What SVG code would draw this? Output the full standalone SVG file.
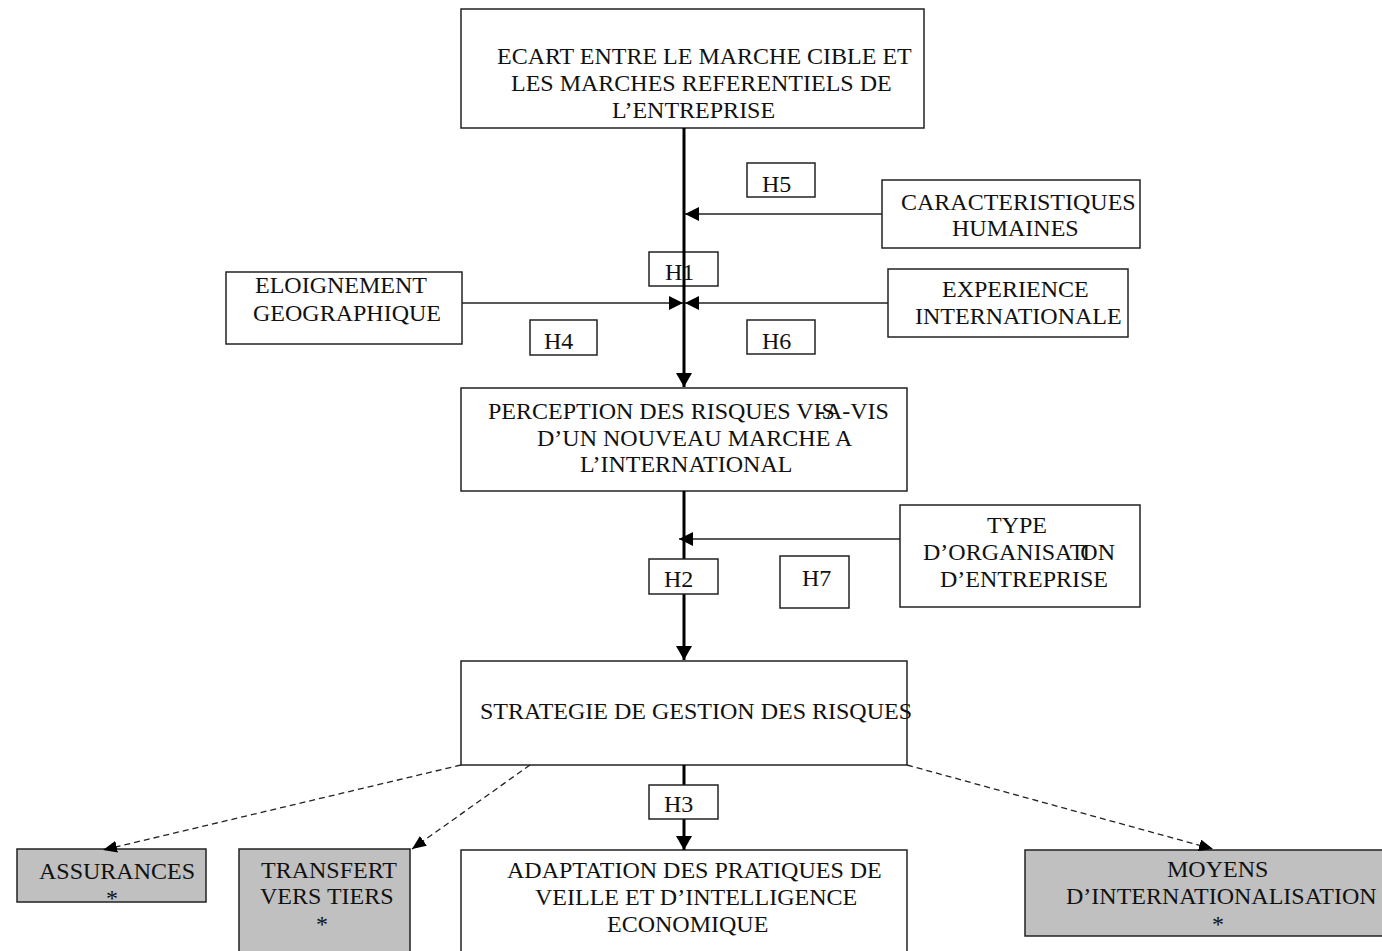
<svg xmlns="http://www.w3.org/2000/svg" width="1382" height="951" viewBox="0 0 1382 951">
<style>
.box{fill:#fff;stroke:#222;stroke-width:1.5}
.grey{fill:#c0c0c0;stroke:#222;stroke-width:1.5}
text{font-family:"Liberation Serif","Times New Roman",serif;font-size:24px;fill:#111}
.main{stroke:#000;stroke-width:3;fill:none}
.thin{stroke:#222;stroke-width:1.5;fill:none}
.dash{stroke:#222;stroke-width:1.3;fill:none;stroke-dasharray:6,4}
</style>
<defs>
<marker id="ah" viewBox="0 0 14 12" refX="14" refY="6" markerWidth="14" markerHeight="12" markerUnits="userSpaceOnUse" orient="auto">
<path d="M0,0 L14,6 L0,12 Z" fill="#000"/>
</marker>
<marker id="ahS" viewBox="0 0 14 14" refX="14" refY="7" markerWidth="14" markerHeight="14" markerUnits="userSpaceOnUse" orient="auto">
<path d="M0,0 L14,7 L0,14 Z" fill="#000"/>
</marker>
<marker id="ahBig" viewBox="0 0 14 16" refX="14" refY="8" markerWidth="14" markerHeight="16" markerUnits="userSpaceOnUse" orient="auto">
<path d="M0,0 L14,8 L0,16 Z" fill="#000"/>
</marker>
</defs>

<g id="n-ecart"><rect class="box" x="461" y="9" width="463" height="119"/>
<text x="497" y="64">ECART ENTRE LE MARCHE CIBLE ET</text>
<text x="511" y="91">LES MARCHES REFERENTIELS DE</text>
<text x="612" y="118">L’ENTREPRISE</text></g>

<g id="n-carac"><rect class="box" x="882" y="180" width="258" height="68"/>
<text x="901" y="210">CARACTERISTIQUES</text>
<text x="952" y="236">HUMAINES</text></g>

<g id="n-eloign"><rect class="box" x="226" y="272" width="236" height="72"/>
<text x="255" y="293">ELOIGNEMENT</text>
<text x="253" y="321">GEOGRAPHIQUE</text></g>

<g id="n-exper"><rect class="box" x="888" y="269" width="240" height="68"/>
<text x="942" y="297">EXPERIENCE</text>
<text x="915" y="324">INTERNATIONALE</text></g>

<g id="n-percep"><rect class="box" x="461" y="388" width="446" height="103"/>
<text x="488" y="419">PERCEPTION DES RISQUES VIS<tspan dx="-18">-A-VIS</tspan></text>
<text x="537" y="446">D’UN NOUVEAU MARCHE A</text>
<text x="580" y="472">L’INTERNATIONAL</text></g>

<g id="n-type"><rect class="box" x="900" y="505" width="240" height="102"/>
<text x="987" y="533">TYPE</text>
<text x="923" y="560">D’ORGANISAT<tspan dx="-2">I</tspan><tspan dx="-10">ON</tspan></text>
<text x="940" y="587">D’ENTREPRISE</text></g>

<g id="n-strat"><rect class="box" x="461" y="661" width="446" height="104"/>
<text x="480" y="719">STRATEGIE DE GESTION DES RISQUES</text></g>

<g id="n-adapt"><rect class="box" x="461" y="850" width="446" height="111"/>
<text x="507" y="878">ADAPTATION DES PRATIQUES DE</text>
<text x="535" y="905">VEILLE ET D’INTELLIGENCE</text>
<text x="607" y="932">ECONOMIQUE</text></g>

<g id="n-assur"><rect class="grey" x="17" y="849" width="189" height="53"/>
<text x="39" y="879">ASSURANCES</text>
<text x="106" y="906">*</text></g>

<g id="n-transf"><rect class="grey" x="239" y="849" width="171" height="112"/>
<text x="261" y="878">TRANSFERT</text>
<text x="260" y="904">VERS TIERS</text>
<text x="316" y="932">*</text></g>

<g id="n-moyens"><rect class="grey" x="1025" y="850" width="370" height="86"/>
<text x="1167" y="877">MOYENS</text>
<text x="1066" y="904">D’INTERNATIONALISATION</text>
<text x="1212" y="932">*</text></g>

<g id="h-back">
<g id="h5"><rect class="box" x="747" y="163" width="68" height="34"/><text x="762" y="192">H5</text></g>
<g id="h1"><rect class="box" x="649" y="252" width="69" height="34"/><text x="665" y="280">H1</text></g>
<g id="h4"><rect class="box" x="530" y="320" width="67" height="35"/><text x="544" y="349">H4</text></g>
<g id="h6"><rect class="box" x="747" y="320" width="68" height="34"/><text x="762" y="349">H6</text></g>
<g id="h7"><rect class="box" x="780" y="556" width="69" height="52"/><text x="802" y="586">H7</text></g>
</g>

<g id="connectors">
<line class="main" x1="684" y1="128" x2="684" y2="387" marker-end="url(#ahBig)"/>
<line class="main" x1="684" y1="491" x2="684" y2="660" marker-end="url(#ahBig)"/>
<line class="main" x1="684" y1="765" x2="684" y2="850" marker-end="url(#ahBig)"/>
<line class="thin" x1="882" y1="214" x2="685" y2="214" marker-end="url(#ahS)"/>
<line class="thin" x1="462" y1="303" x2="683" y2="303" marker-end="url(#ahS)"/>
<line class="thin" x1="888" y1="303" x2="685" y2="303" marker-end="url(#ahS)"/>
<line class="thin" x1="900" y1="539" x2="679" y2="539" marker-end="url(#ahS)"/>
<line class="dash" x1="461" y1="765" x2="103" y2="850" marker-end="url(#ah)"/>
<line class="dash" x1="530" y1="765" x2="412" y2="849" marker-end="url(#ah)"/>
<line class="dash" x1="907" y1="765" x2="1213" y2="849" marker-end="url(#ah)"/>
</g>

<g id="h-front">
<g id="h2"><rect class="box" x="649" y="559" width="69" height="35"/><text x="664" y="587">H2</text></g>
<g id="h3"><rect class="box" x="649" y="785" width="69" height="34"/><text x="664" y="812">H3</text></g>
</g>
</svg>
